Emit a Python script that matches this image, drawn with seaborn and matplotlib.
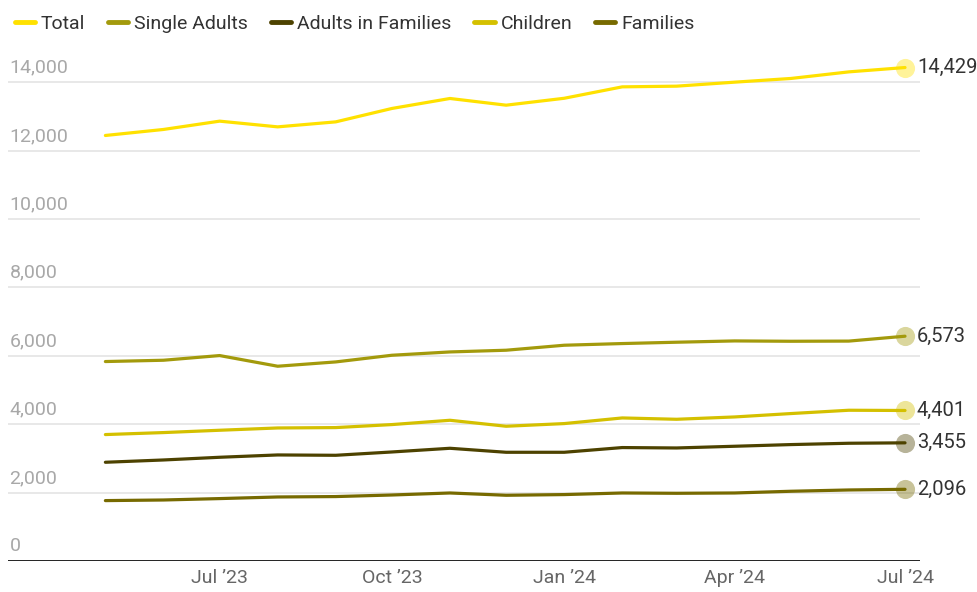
import pandas as pd
import matplotlib.pyplot as plt
import matplotlib.transforms as mtransforms
import seaborn as sns

# 데이터 (월별)
months = pd.date_range('2023-05-01', '2024-07-01', freq='MS')
total = [12442, 12618, 12861, 12694, 12840, 13232, 13524, 13328, 13530,
         13864, 13884, 14001, 14109, 14302, 14429]
single_adults = [5832, 5870, 6007, 5695, 5821, 6016, 6113, 6163, 6309,
                 6358, 6397, 6435, 6425, 6430, 6573]
adults_in_families = [2887, 2954, 3033, 3101, 3091, 3188, 3296, 3179, 3179,
                      3317, 3305, 3355, 3404, 3443, 3455]
children = [3697, 3755, 3823, 3890, 3901, 3989, 4115, 3940, 4018,
            4183, 4144, 4212, 4311, 4408, 4401]
families = [1766, 1784, 1825, 1872, 1884, 1930, 1989, 1922, 1942,
            1989, 1980, 1989, 2039, 2077, 2096]

series_names = ['Total', 'Single Adults', 'Adults in Families', 'Children', 'Families']
series_values = [total, single_adults, adults_in_families, children, families]
colors = ['#ffe100', '#a39a0c', '#4d4200', '#d4c000', '#776a00']

y_ticks = [0, 2000, 4000, 6000, 8000, 10000, 12000, 14000]
x_ticks = pd.to_datetime(['2023-07-01', '2023-10-01', '2024-01-01', '2024-04-01', '2024-07-01'])
x_tick_labels = ['Jul \u201923', 'Oct \u201923', 'Jan \u201924', 'Apr \u201924', 'Jul \u201924']

df = pd.concat([pd.DataFrame({'month': months, 'value': v, 'series': n})
                for n, v in zip(series_names, series_values)], ignore_index=True)

sns.set_style('white')
plt.rcParams['font.family'] = ['Roboto', 'DejaVu Sans']

fig = plt.figure(figsize=(9.78, 5.92), dpi=100)
ax = fig.add_axes([8 / 978, 31 / 592, 912 / 978, 513 / 592])

palette = dict(zip(series_names, colors))
sns.lineplot(data=df, x='month', y='value', hue='series', hue_order=series_names,
             palette=palette, linewidth=2.3, ax=ax, legend=True, zorder=3)

# 마지막 값 표시
for name, vals in zip(series_names, series_values):
    ax.scatter([months[-1]], [vals[-1]], s=190, color=palette[name], alpha=0.4,
               linewidths=0, zorder=4)
    ax.annotate(f'{vals[-1]:,}', (months[-1], vals[-1]), xytext=(8.5, 0),
                textcoords='offset points', va='center', ha='left',
                fontsize=14.5, color='#333333', annotation_clip=False)

ax.set_ylim(0, 15000)
ax.set_xlim(pd.Timestamp('2023-03-10'), pd.Timestamp('2024-07-09'))

# 그리드 + y 라벨 (선 위쪽, 안쪽)
for v in y_ticks[1:]:
    ax.axhline(v, color='#e6e6e6', linewidth=1.3, zorder=1)
ax.axhline(0, color='#222222', linewidth=1.4, zorder=2)
ax.set_yticks([])
lbl_tr = ax.get_yaxis_transform() + mtransforms.ScaledTranslation(1 / 72, 4 / 72, fig.dpi_scale_trans)
for v in y_ticks:
    ax.text(0, v, f'{v:,}', transform=lbl_tr, ha='left', va='bottom',
            fontsize=14, color='#a8a8a8')

ax.set_xticks(x_ticks)
ax.set_xticklabels(x_tick_labels)
ax.tick_params(axis='x', length=0, labelsize=14, labelcolor='#666666', pad=6)
ax.set_xlabel('')
ax.set_ylabel('')
for s in ax.spines.values():
    s.set_visible(False)

handles, labels = ax.get_legend_handles_labels()
ax.get_legend().remove()
for h in handles:
    h.set_linewidth(3.5)
fig.legend(handles, labels, loc='upper left', bbox_to_anchor=(-0.003, 1.004), ncol=5,
           frameon=False, fontsize=14, handlelength=1.05, handletextpad=0.3,
           columnspacing=1.17, labelcolor='#333333')

fig.savefig('out.png', dpi=100)
